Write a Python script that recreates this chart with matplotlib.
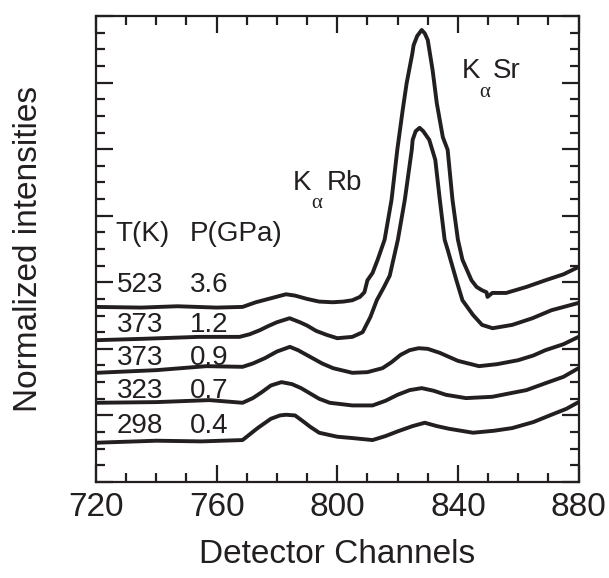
import numpy as np
import matplotlib
matplotlib.use('Agg')
from matplotlib import pyplot as plt
from matplotlib.ticker import MultipleLocator

plt.rcParams['font.family'] = ['Liberation Sans', 'DejaVu Sans']

ink = '#231f20'

# spectra, stacked (channel, normalized intensity + offset), top to bottom
ch1 = [720, 735, 747, 760, 768.6, 773, 778, 783, 786, 790, 794, 798.5, 802, 805, 807.5, 809, 810,
       811.7, 813.4, 815.7, 818, 819.9, 821.7, 823, 824.9, 825.3, 826.5, 828, 829, 830, 831.6,
       833, 835, 836.6, 838.2, 840, 841.5, 844.5, 846.2, 848, 849.5, 849.8, 851.4, 856,
       862.7, 869, 875, 880]
y1 = [2.63, 2.62, 2.64, 2.62, 2.63, 2.70, 2.76, 2.82, 2.80, 2.75, 2.71, 2.70, 2.71, 2.73, 2.78, 2.85, 3.03,
      3.14, 3.34, 3.64, 4.24, 4.99, 5.59, 5.99, 6.44, 6.56, 6.70, 6.79, 6.74, 6.64, 6.19,
      5.69, 5.18, 4.99, 4.24, 3.64, 3.34, 3.03, 2.93, 2.88, 2.85, 2.78, 2.84, 2.84,
      2.93, 3.03, 3.12, 3.23]

ch2 = [720, 735, 754, 767.6, 771, 774.3, 777, 780, 784.2, 787.6, 790, 793, 796.5, 800, 805, 808.4,
       811, 813.1, 815.5, 817.4, 820.1, 822.4, 824.7, 825, 826, 827.3, 828.5, 830.5, 832.5,
       834, 835.6, 836.6, 839.5, 841.5, 845, 848, 851.5, 858, 864.7, 871, 880]
y2 = [2.13, 2.15, 2.18, 2.18, 2.22, 2.28, 2.34, 2.40, 2.46, 2.40, 2.35, 2.27, 2.21, 2.16, 2.18, 2.25,
      2.48, 2.73, 2.93, 3.10, 3.64, 4.24, 4.99, 5.14, 5.27, 5.32, 5.27, 5.14, 4.84,
      4.24, 3.64, 3.49, 3.03, 2.73, 2.51, 2.36, 2.31, 2.36, 2.46, 2.58, 2.69]

ch3 = [720, 740, 756.6, 768.6, 772, 776, 780, 784.3, 787, 791, 795, 798.6, 805, 810, 815, 818,
       821, 824, 827, 830, 834, 840, 847, 853, 860, 865, 869, 875, 880]
y3 = [1.64, 1.68, 1.74, 1.73, 1.78, 1.86, 1.96, 2.03, 1.98, 1.88, 1.78, 1.71, 1.64, 1.65, 1.71, 1.80,
      1.91, 1.98, 2.01, 2.00, 1.94, 1.82, 1.74, 1.77, 1.83, 1.90, 1.98, 2.07, 2.18]

ch4 = [720, 740, 757.6, 768.6, 772, 775, 778, 781.5, 785, 788, 791, 794, 797.5, 805, 811.7, 816,
       820, 824, 828, 832, 836, 842.7, 851.4, 857, 862.7, 869.4, 875, 880]
y4 = [1.19, 1.20, 1.23, 1.19, 1.26, 1.35, 1.45, 1.50, 1.47, 1.41, 1.33, 1.25, 1.19, 1.15, 1.15, 1.22,
      1.31, 1.38, 1.41, 1.37, 1.31, 1.26, 1.28, 1.33, 1.38, 1.49, 1.58, 1.71]

ch5 = [720, 740, 755, 768.6, 773.6, 778, 781, 783, 786, 789, 791, 794, 800, 805, 811.7, 816,
       820, 825, 829, 833, 837, 845, 852, 858, 865, 871, 876, 880]
y5 = [0.59, 0.62, 0.61, 0.63, 0.81, 0.95, 1.00, 1.01, 1.00, 0.90, 0.83, 0.74, 0.68, 0.66, 0.63, 0.69,
      0.76, 0.84, 0.89, 0.84, 0.80, 0.74, 0.77, 0.81, 0.90, 1.01, 1.10, 1.20]

temps = ['523', '373', '373', '323', '298']
press = ['3.6', '1.2', '0.9', '0.7', '0.4']
label_y = [2.85, 2.25, 1.76, 1.26, 0.74]

fig = plt.figure(figsize=(6.09, 5.78), dpi=100)
ax = fig.add_axes([0.1576, 0.1661, 0.7924, 0.8062])

for xs, ys in [(ch1, y1), (ch2, y2), (ch3, y3), (ch4, y4), (ch5, y5)]:
    ax.plot(xs, ys, color=ink, lw=2.8, solid_joinstyle='round', solid_capstyle='round')

ax.set_xlim(720, 880)
ax.set_ylim(0, 7)
ax.xaxis.set_major_locator(MultipleLocator(40))
ax.xaxis.set_minor_locator(MultipleLocator(10))
ax.yaxis.set_major_locator(MultipleLocator(1))
ax.yaxis.set_minor_locator(MultipleLocator(0.25))
ax.tick_params(which='both', direction='in', top=True, right=True, width=1.6, color=ink)
ax.tick_params(which='major', length=12, labelsize=24, pad=7, labelcolor=ink)
ax.tick_params(which='minor', length=6.5)
ax.tick_params(axis='y', labelleft=False)
for s in ax.spines.values():
    s.set_linewidth(1.6)
    s.set_color(ink)

ax.set_xlabel('Detector Channels', fontsize=24, color=ink, labelpad=12)
ax.set_ylabel('Normalized intensities', fontsize=24, color=ink, labelpad=34)

ax.text(726.3, 3.62, 'T(K)', fontsize=20, color=ink, va='baseline')
ax.text(751, 3.62, 'P(GPa)', fontsize=20, color=ink, va='baseline')
for t, p, yy in zip(temps, press, label_y):
    ax.text(727, yy, t, fontsize=20, color=ink, va='baseline')
    ax.text(751, yy, p, fontsize=20, color=ink, va='baseline')

ax.text(785.2, 4.39, 'K', fontsize=20, color=ink, va='baseline')
ax.text(791.5, 4.12, '\u03b1', fontsize=15, color=ink, va='baseline', family=['Liberation Serif', 'DejaVu Serif'])
ax.text(796.6, 4.39, 'Rb', fontsize=20, color=ink, va='baseline')

ax.text(841.3, 6.07, 'K', fontsize=20, color=ink, va='baseline')
ax.text(847, 5.78, '\u03b1', fontsize=15, color=ink, va='baseline', family=['Liberation Serif', 'DejaVu Serif'])
ax.text(851.6, 6.07, 'Sr', fontsize=20, color=ink, va='baseline')

fig.savefig('out.png', dpi=100)
